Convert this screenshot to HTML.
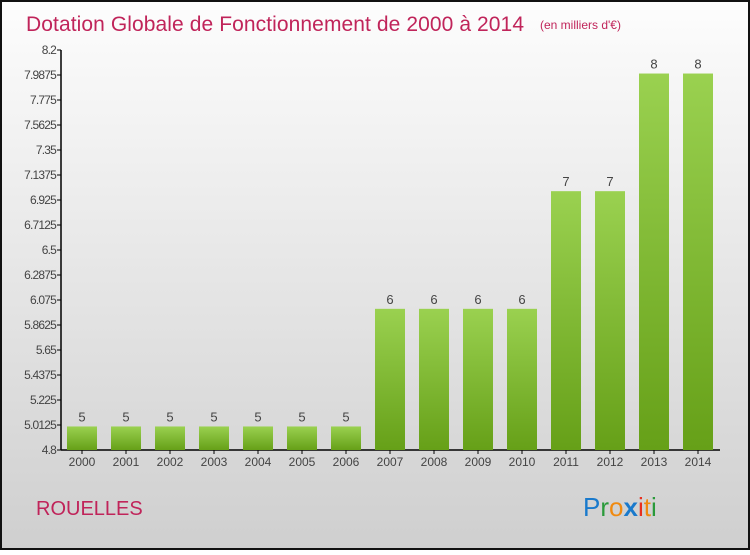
<!DOCTYPE html>
<html><head><meta charset="utf-8"><style>
html,body{margin:0;padding:0}
body{width:750px;height:550px;overflow:hidden;font-family:"Liberation Sans",sans-serif}
</style></head><body>
<svg id="c" width="750" height="550" xmlns="http://www.w3.org/2000/svg">
<defs>
<linearGradient id="bg" x1="0" y1="0" x2="0" y2="1"><stop offset="0" stop-color="#fdfdfd"/><stop offset="1" stop-color="#cfcfcf"/></linearGradient>
<linearGradient id="bar" x1="0" y1="0" x2="0" y2="1"><stop offset="0" stop-color="#9ad150"/><stop offset="1" stop-color="#66a018"/></linearGradient>
</defs>
<rect x="1" y="1" width="748" height="548" fill="url(#bg)" stroke="#111" stroke-width="2"/>
<text x="26" y="31" font-size="21" fill="#c0245a" textLength="498">Dotation Globale de Fonctionnement de 2000 à 2014</text>
<text x="540" y="29" font-size="12" fill="#c0245a">(en milliers d'€)</text>
<text x="36" y="515" font-size="20" fill="#c0245a">ROUELLES</text>
<g font-size="26">
<text x="583" y="516" font-family="'Liberation Sans',sans-serif"><tspan fill="#1a7acc">P</tspan><tspan fill="#2a9a3a">r</tspan><tspan fill="#f08a10">o</tspan><tspan fill="#1a7acc" font-weight="bold">x</tspan><tspan fill="#e83020">i</tspan><tspan fill="#f08a10">t</tspan><tspan fill="#2a9a3a">i</tspan></text>
</g>
<g id="axes"></g>
<g id="bars"></g>
</svg>
<script>
const categories=["2000","2001","2002","2003","2004","2005","2006","2007","2008","2009","2010","2011","2012","2013","2014"];
const values=[5,5,5,5,5,5,5,6,6,6,6,7,7,8,8];
const valueLabels=["5","5","5","5","5","5","5","6","6","6","6","7","7","8","8"];
const tickLabels=["4.8","5.0125","5.225","5.4375","5.65","5.8625","6.075","6.2875","6.5","6.7125","6.925","7.1375","7.35","7.5625","7.775","7.9875","8.2"];
const yMin=4.8,yMax=8.2;
const NS="http://www.w3.org/2000/svg";
function y(v){return 450-(v-yMin)/(yMax-yMin)*400;}
function x(i){return 82+i*44;}
function mk(t,a,p){const e=document.createElementNS(NS,t);for(const k in a)e.setAttribute(k,a[k]);p.appendChild(e);return e;}
const ax=document.getElementById('axes'),bs=document.getElementById('bars');
let l=mk('line',{x1:61,y1:50,x2:61,y2:450,stroke:'#000','stroke-width':1.5},ax);


l=mk('line',{x1:61,y1:450,x2:720,y2:450,stroke:'#000','stroke-width':1.5},ax);


tickLabels.forEach(t=>{const v=parseFloat(t),yy=y(v);
mk('line',{x1:57,y1:yy,x2:61,y2:yy,stroke:'#000'},ax);
const tx=mk('text',{x:56,y:yy+4,'text-anchor':'end','font-size':12,fill:'#444','letter-spacing':'-0.8'},ax);tx.textContent=t;

});
categories.forEach((c,i)=>{const cx=x(i),top=y(values[i]);
mk('line',{x1:cx,y1:450,x2:cx,y2:454,stroke:'#000'},ax);
const tl=mk('text',{x:cx,y:466,'text-anchor':'middle','font-size':12,fill:'#444'},ax);tl.textContent=c;


const r=mk('rect',{x:cx-15,y:top,width:30,height:450-top,fill:'url(#bar)'},bs);


const vl=mk('text',{x:cx,y:top-5,'text-anchor':'middle','font-size':13,fill:'#444'},bs);vl.textContent=valueLabels[i];

});
</script>
</body></html>
